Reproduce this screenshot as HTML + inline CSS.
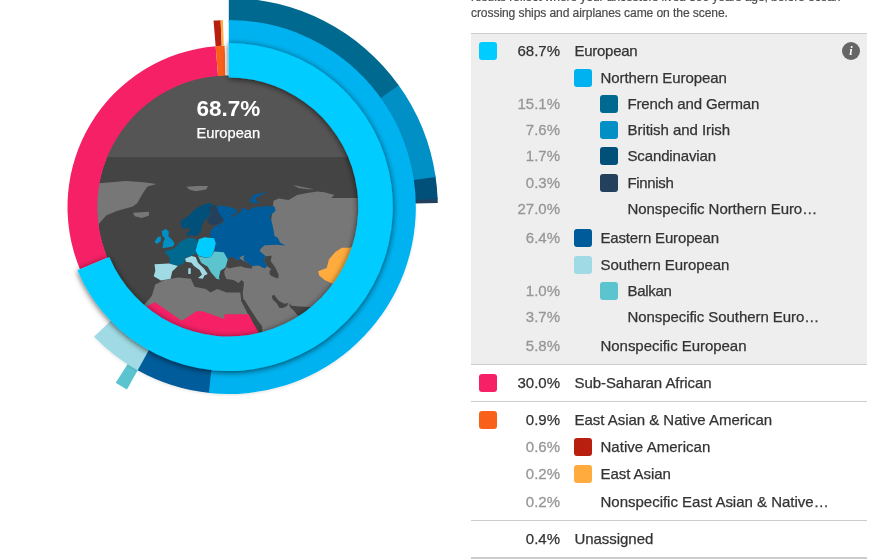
<!DOCTYPE html>
<html><head><meta charset="utf-8"><title>Ancestry Composition</title>
<style>
html,body{margin:0;padding:0;background:#fff;}
body{width:870px;height:559px;overflow:hidden;position:relative;font-family:"Liberation Sans",sans-serif;}
#chart{position:absolute;left:0;top:0;}
.intro{position:absolute;left:471px;top:-11px;width:400px;font-size:12.1px;letter-spacing:-0.1px;line-height:16px;color:#4c4c4c;-webkit-text-stroke:0.2px #4c4c4c;white-space:nowrap;}
.panel{position:absolute;left:471px;width:396px;}
.sw{position:absolute;width:18px;height:18px;border-radius:3px;display:block;}
.pct{position:absolute;left:500px;width:60px;text-align:right;font-size:15px;line-height:20px;color:#979797;white-space:nowrap;-webkit-text-stroke:0.3px #979797;}
.pct.dk{color:#333;-webkit-text-stroke:0.25px #333;}
.lb{position:absolute;font-size:15px;line-height:20px;color:#333;white-space:nowrap;letter-spacing:-0.1px;-webkit-text-stroke:0.25px #333;}
.info{position:absolute;left:842px;top:42px;width:18px;height:18px;border-radius:9px;background:#666;color:#fff;font:italic bold 12px/18px "Liberation Serif",serif;text-align:center;}
</style></head><body>
<svg id="chart" width="460" height="559" viewBox="0 0 460 559">
<defs>
<clipPath id="cc"><circle cx="228.8" cy="207" r="132"/></clipPath>
<filter id="sh" x="-20%" y="-20%" width="140%" height="140%"><feGaussianBlur in="SourceAlpha" stdDeviation="3"/><feOffset dx="0" dy="1"/><feComponentTransfer><feFuncA type="linear" slope="0.68"/></feComponentTransfer><feMerge><feMergeNode/><feMergeNode in="SourceGraphic"/></feMerge></filter>
<filter id="sh2" x="-20%" y="-20%" width="140%" height="140%"><feGaussianBlur in="SourceAlpha" stdDeviation="1.5"/><feOffset dx="0" dy="1"/><feComponentTransfer><feFuncA type="linear" slope="0.12"/></feComponentTransfer><feMerge><feMergeNode/><feMergeNode in="SourceGraphic"/></feMerge></filter>
</defs>
<g clip-path="url(#cc)">
<rect x="90" y="70" width="280" height="280" fill="#444444"/>
<rect x="90" y="70" width="280" height="87" fill="#555555"/>
<polygon fill="#777777" points="95.0,183.5 98.9,183.2 125.8,181.1 143.6,182.3 156.2,184.1 147.2,186.8 141.8,194.9 137.4,202.9 132.9,206.5 116.8,211.0 106.1,215.4 100.7,221.7 95.0,228.0"/>
<polygon fill="#777777" points="132.9,212.7 149.0,211.8 149.0,215.4 141.8,218.1 134.7,216.3"/>
<polygon fill="#777777" points="186.5,186.8 197.3,185.9 208.0,185.9 206.2,189.5 195.5,191.3 189.2,189.5"/>
<polygon fill="#777777" points="292.9,185.0 307.2,187.9 314.4,189.3 307.2,189.3 298.6,187.9"/>
<polygon fill="#777777" points="273.0,205.3 273.6,200.8 278.6,198.6 288.6,200.0 297.2,195.0 307.2,192.9 317.2,191.5 324.4,192.2 334.4,195.0 331.0,198.0 340.1,197.9 365.0,197.9 365.0,340.0 261.8,340.0 261.8,327.3 255.8,323.0 250.8,314.4 243.6,300.1 242.7,292.9 243.8,285.3 243.8,281.9 241.5,280.1 238.6,283.0 233.4,280.1 226.4,279.0 224.7,274.9 224.1,271.4 226.4,267.3 227.0,261.5 244.0,255.0 262.0,247.0 270.0,230.0"/>
<polygon fill="#777777" points="140.0,310.0 144.9,304.0 151.8,296.0 155.3,284.5 164.5,279.9 178.3,277.6 190.9,278.7 194.4,286.8 205.9,289.1 210.5,292.5 217.4,289.1 226.6,292.5 240.3,292.5 241.2,300.8 247.9,313.0 252.9,323.0 258.7,332.3 262.0,340.0 140.0,340.0"/>
<polygon fill="#444444" points="241.2,300.6 244.4,299.8 250.9,310.2 257.3,319.9 262.1,326.3 262.5,340.0 259.7,340.0 254.1,324.7 247.6,313.5"/>
<polygon fill="#444444" points="271.6,295.8 274.4,295.1 278.7,300.8 284.4,303.7 288.0,303.0 287.3,305.8 283.0,308.0 279.4,308.0 276.6,303.0 273.0,300.1"/>
<polygon fill="#444444" points="288.7,303.0 291.6,305.8 300.2,306.5 315.0,307.3 315.0,330.0 297.3,315.1 294.5,311.6 290.2,307.3"/>
<polygon fill="#444444" points="263.6,260.3 265.9,256.3 271.7,255.7 270.6,260.9 275.2,267.3 278.7,274.9 278.1,278.4 274.1,277.2 270.0,274.9 269.4,271.4 271.2,269.1 267.1,266.2"/>
<polygon fill="#444444" points="227.0,261.5 229.9,256.9 233.4,257.4 238.0,260.3 241.5,259.8 245.0,261.5 248.5,263.3 252.0,266.2 252.0,268.5 246.2,267.9 240.3,266.2 234.5,267.3 229.3,268.5 226.4,267.3"/>
<polygon fill="#f52066" points="140.0,309.0 147.1,306.2 155.1,302.2 181.7,320.7 197.0,311.0 204.2,311.8 224.3,319.1 224.3,314.3 248.6,314.3 254.1,324.7 258.9,332.8 260.0,340.0 140.0,340.0"/>
<polygon fill="#005b9a" points="216.3,207.3 219.8,205.6 227.9,206.7 236.0,209.1 237.2,211.4 234.9,213.7 231.4,216.0 233.0,217.0 238.4,213.1 241.9,210.8 240.7,208.5 245.3,208.5 247.7,210.2 254.7,207.3 265.1,206.2 274.4,206.2 275.6,210.8 269.8,216.0 272.1,223.0 273.8,231.2 274.4,235.8 277.9,238.1 280.2,242.8 285.9,245.5 276.4,244.7 264.8,245.2 261.3,248.1 259.5,251.0 265.9,256.3 263.6,260.3 267.1,266.2 264.8,268.5 258.4,265.6 252.0,266.2 248.5,263.3 245.0,261.5 243.3,258.6 244.4,255.1 239.2,257.4 241.5,259.8 238.0,260.3 233.4,257.4 229.9,256.9 227.0,260.0 225.8,255.1 221.5,253.0 215.0,251.9 215.0,244.4 212.9,238.0 209.7,236.9 210.7,230.5 215.0,226.2 222.6,223.0 223.8,219.5 219.2,213.7 217.4,209.1"/>
<polygon fill="#005b9a" points="249.4,201.5 252.3,195.7 258.1,193.4 268.6,192.2 260.5,195.1 254.7,199.2 259.3,203.3 253.5,203.3"/>
<polygon fill="#00507a" points="180.3,221.6 188.3,215.9 194.8,209.5 202.8,204.7 210.9,203.1 214.1,206.3 210.9,210.3 209.3,215.9 204.4,220.8 202.0,224.8 201.2,230.4 198.0,235.3 193.2,236.1 189.9,232.0 189.9,228.0 184.3,228.8 181.1,226.4"/>
<polygon fill="#00507a" points="186.7,232.0 190.7,231.2 191.5,235.3 187.5,236.6"/>
<polygon fill="#23405c" points="207.0,207.9 215.1,205.0 217.4,209.1 219.2,213.7 223.8,219.5 219.8,223.6 212.8,225.3 208.1,223.0 207.0,219.5 211.6,213.7 209.3,209.1"/>
<polygon fill="#0090c5" points="161.7,231.2 165.8,228.8 169.0,232.0 168.2,236.1 172.2,240.1 174.6,243.3 173.0,246.5 162.6,248.2 163.4,241.7 165.0,238.5 162.6,236.1"/>
<polygon fill="#0090c5" points="154.5,241.7 157.7,236.9 160.9,236.6 160.9,240.9 156.9,244.1"/>
<polygon fill="#00698f" points="164.2,251.4 174.6,248.2 180.3,241.7 188.3,237.7 194.8,238.5 198.8,243.3 195.6,248.2 196.4,253.8 191.5,255.4 185.1,257.8 184.3,262.7 177.9,265.9 169.8,263.5 169.8,257.8 166.6,254.6"/>
<polygon fill="#00ccff" points="198.8,239.3 204.4,237.2 214.1,238.2 215.7,243.3 214.1,250.6 210.9,257.0 206.0,257.8 198.0,255.4 195.6,250.6 197.2,244.9"/>
<polygon fill="#a0dbe5" points="154.5,264.3 169.0,263.5 177.9,265.9 172.2,271.5 170.6,278.8 160.9,280.4 153.7,276.3 155.3,270.7"/>
<polygon fill="#a0dbe5" points="185.1,258.6 191.5,255.9 195.6,257.0 198.0,262.7 204.4,269.1 207.7,273.9 204.4,275.5 202.8,278.8 198.0,278.0 202.0,274.7 199.6,269.9 194.0,265.9 191.5,262.7 185.9,261.8"/>
<polygon fill="#a0dbe5" points="188.3,268.3 190.7,268.3 190.7,273.9 188.3,273.9"/>
<polygon fill="#5bc4cf" points="198.0,255.9 206.0,258.1 210.9,257.0 214.1,251.4 223.8,252.2 227.8,259.4 225.4,267.5 220.5,270.7 218.9,277.2 219.7,279.6 216.5,278.8 210.9,272.3 207.7,266.7 201.2,262.7"/>
<polygon fill="#ffab3d" points="318.1,271.3 326.7,268.1 328.9,259.5 335.3,252.0 341.8,247.7 350.3,247.7 365.0,240.0 365.0,300.0 331.0,283.1 324.6,279.9 319.2,275.6"/>
</g>
<text x="228.3" y="115.8" text-anchor="middle" font-family="Liberation Sans, sans-serif" font-weight="bold" font-size="22.5" fill="#fff">68.7%</text>
<text x="228.3" y="138.3" text-anchor="middle" font-family="Liberation Sans, sans-serif" font-size="14.7" fill="#fff" stroke="#fff" stroke-width="0.25">European</text>
<path d="M79.97,269.19A161.3,161.3 0 0 1 215.64,46.24L218.07,75.94A131.5,131.5 0 0 0 107.47,257.70Z" fill="#f52066"/>
<path d="M215.64,46.24A161.3,161.3 0 0 1 224.75,45.75L225.50,75.54A131.5,131.5 0 0 0 218.07,75.94Z" fill="#f9601a"/>
<path d="M224.75,45.75A161.3,161.3 0 0 1 228.80,45.70L228.80,75.50A131.5,131.5 0 0 0 225.50,75.54Z" fill="#fafafa"/>
<path d="M213.54,20.62A187.0,187.0 0 0 1 220.58,20.18L221.71,45.86A161.3,161.3 0 0 0 215.64,46.24Z" fill="#b81f0f"/>
<path d="M220.58,20.18A187.0,187.0 0 0 1 222.93,20.09L223.73,45.78A161.3,161.3 0 0 0 221.71,45.86Z" fill="#ffab3d"/>
<g><path d="M437.59,197.66A209.0,209.0 0 0 1 437.76,203.06L413.77,203.51A185.0,185.0 0 0 0 413.62,198.74Z" fill="#23405c"/>
<path d="M435.41,175.46A209.0,209.0 0 0 1 437.65,199.12L413.67,200.03A185.0,185.0 0 0 0 411.68,179.08Z" fill="#00507a"/>
<path d="M397.80,84.03A209.0,209.0 0 0 1 435.62,176.90L411.87,180.36A185.0,185.0 0 0 0 378.39,98.16Z" fill="#0090c5"/>
<path d="M228.80,-2.00A209.0,209.0 0 0 1 398.65,85.22L379.15,99.20A185.0,185.0 0 0 0 228.80,22.00Z" fill="#00698f"/>
<path d="M126.96,389.51A209.0,209.0 0 0 1 115.71,382.76L128.69,362.57A185.0,185.0 0 0 0 138.66,368.55Z" fill="#5bc4cf"/></g>
<g filter="url(#sh2)"><path d="M138.83,370.93A187.0,187.0 0 0 1 94.10,336.71L112.83,318.68A161.0,161.0 0 0 0 151.34,348.14Z" fill="#a0dbe5"/>
<path d="M210.16,393.07A187.0,187.0 0 0 1 137.68,370.30L150.35,347.60A161.0,161.0 0 0 0 212.75,367.20Z" fill="#005b9a"/>
<path d="M228.80,20.00A187.0,187.0 0 1 1 208.86,392.93L211.64,367.08A161.0,161.0 0 1 0 228.80,46.00Z" fill="#00b2f0"/></g>
<g filter="url(#sh)"><path d="M228.80,43.00A164.0,164.0 0 1 1 77.48,270.24L109.31,256.93A129.5,129.5 0 1 0 228.80,77.50Z" fill="#00ccff"/></g>
</svg>
<div class="intro">results reflect where your ancestors lived 500 years ago, before ocean-<br>crossing ships and airplanes came on the scene.</div>
<div class="panel" style="top:33px;height:330px;background:#eeeeee;border-top:1px solid #ccc;border-bottom:1px solid #ccc;"></div>
<div class="panel" style="top:401px;height:0;border-top:1px solid #ccc;"></div>
<div class="panel" style="top:520px;height:0;border-top:1px solid #ccc;"></div>
<div class="panel" style="top:557px;height:0;border-top:3px solid #ccc;"></div>
<i class="sw" style="left:479px;top:42px;background:#00ccff"></i>
<span class="pct dk" style="top:40.5px">68.7%</span>
<span class="lb" style="left:574.5px;top:40.5px;letter-spacing:-0.27px">European</span>
<i class="sw" style="left:574px;top:69px;background:#00b2f0"></i>
<span class="lb" style="left:600.5px;top:67.5px;letter-spacing:-0.08px">Northern European</span>
<i class="sw" style="left:600px;top:95px;background:#00698f"></i>
<span class="pct" style="top:93.5px">15.1%</span>
<span class="lb" style="left:627.5px;top:93.5px;letter-spacing:-0.15px">French and German</span>
<i class="sw" style="left:600px;top:121px;background:#0090c5"></i>
<span class="pct" style="top:119.5px">7.6%</span>
<span class="lb" style="left:627.5px;top:119.5px;letter-spacing:-0.05px">British and Irish</span>
<i class="sw" style="left:600px;top:147px;background:#00507a"></i>
<span class="pct" style="top:145.5px">1.7%</span>
<span class="lb" style="left:627.5px;top:145.5px;letter-spacing:-0.14px">Scandinavian</span>
<i class="sw" style="left:600px;top:174px;background:#23405c"></i>
<span class="pct" style="top:172.5px">0.3%</span>
<span class="lb" style="left:627.5px;top:172.5px;letter-spacing:-0.34px">Finnish</span>
<span class="pct" style="top:198.5px">27.0%</span>
<span class="lb" style="left:627.5px;top:198.5px;letter-spacing:-0.05px">Nonspecific Northern Euro…</span>
<i class="sw" style="left:574px;top:229px;background:#005b9a"></i>
<span class="pct" style="top:227.5px">6.4%</span>
<span class="lb" style="left:600.5px;top:227.5px;letter-spacing:-0.16px">Eastern European</span>
<i class="sw" style="left:574px;top:256px;background:#a0dbe5"></i>
<span class="lb" style="left:600.5px;top:254.5px;letter-spacing:-0.08px">Southern European</span>
<i class="sw" style="left:600px;top:282px;background:#5bc4cf"></i>
<span class="pct" style="top:280.5px">1.0%</span>
<span class="lb" style="left:627.5px;top:280.5px;letter-spacing:-0.3px">Balkan</span>
<span class="pct" style="top:306.5px">3.7%</span>
<span class="lb" style="left:627.5px;top:306.5px;letter-spacing:-0.07px">Nonspecific Southern Euro…</span>
<span class="pct" style="top:335.5px">5.8%</span>
<span class="lb" style="left:600.5px;top:335.5px;letter-spacing:-0.04px">Nonspecific European</span>
<i class="sw" style="left:479px;top:374px;background:#f52066"></i>
<span class="pct dk" style="top:372.5px">30.0%</span>
<span class="lb" style="left:574.5px;top:372.5px;letter-spacing:-0.07px">Sub-Saharan African</span>
<i class="sw" style="left:479px;top:411px;background:#f9601a"></i>
<span class="pct dk" style="top:409.5px">0.9%</span>
<span class="lb" style="left:574.5px;top:409.5px;letter-spacing:-0.03px">East Asian &amp; Native American</span>
<i class="sw" style="left:574px;top:438px;background:#b81f0f"></i>
<span class="pct" style="top:436.5px">0.6%</span>
<span class="lb" style="left:600.5px;top:436.5px;letter-spacing:0.04px">Native American</span>
<i class="sw" style="left:574px;top:465px;background:#ffab3d"></i>
<span class="pct" style="top:463.5px">0.2%</span>
<span class="lb" style="left:600.5px;top:463.5px;letter-spacing:-0.06px">East Asian</span>
<span class="pct" style="top:491.5px">0.2%</span>
<span class="lb" style="left:600.5px;top:491.5px;letter-spacing:-0.01px">Nonspecific East Asian &amp; Native…</span>
<span class="pct dk" style="top:528.5px">0.4%</span>
<span class="lb" style="left:574.5px;top:528.5px;letter-spacing:-0.05px">Unassigned</span>
<div class="info">i</div>
</body></html>
